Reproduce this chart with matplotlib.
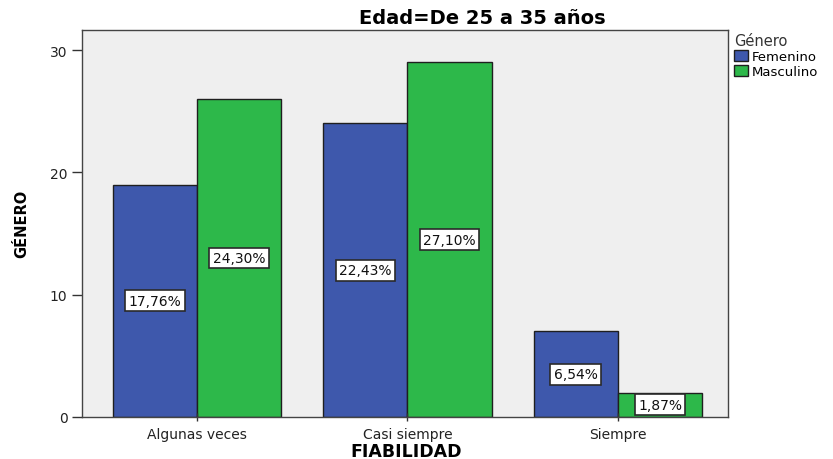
import matplotlib
matplotlib.use("Agg")
import matplotlib.pyplot as plt
import numpy as np
from matplotlib.patches import Patch

categories = ["Algunas veces", "Casi siempre", "Siempre"]
femenino = [19, 24, 7]
masculino = [26, 29, 2]
fem_pct = ["17,76%", "22,43%", "6,54%"]
masc_pct = ["24,30%", "27,10%", "1,87%"]

plt.rcParams['font.family'] = ['DejaVu Sans']

W, H = 833, 460
fig = plt.figure(figsize=(W/100, H/100), dpi=100)
ax = fig.add_axes([82/W, 1-418/H, (728-82)/W, (418-31)/H])
ax.set_facecolor("#EFEFEF")

x = np.arange(len(categories))
w = 0.4
blue = "#3E58AC"
green = "#2DB84A"
ax.bar(x - w/2, femenino, w, color=blue, edgecolor="#1f1f1f", linewidth=1)
ax.bar(x + w/2, masculino, w, color=green, edgecolor="#1f1f1f", linewidth=1)

for xs, vals, labels in ((x - w/2, femenino, fem_pct), (x + w/2, masculino, masc_pct)):
    for xi, v, t in zip(xs, vals, labels):
        ax.text(xi, v/2, t, ha="center", va="center", fontsize=10, color="#111111",
                bbox=dict(boxstyle="square,pad=0.25", fc="white", ec="#2a2a2a", lw=1.2))

ax.set_xlim(-0.546, 2.523)
ax.set_ylim(0, 31.64)
ax.set_yticks([0, 10, 20, 30])
ax.set_xticks(x)
ax.set_xticklabels(categories, fontsize=10, color="#222222")
ax.tick_params(axis="y", labelsize=10, labelcolor="#222222", length=7, width=1, color="#333333")
ax.tick_params(axis="x", length=6, width=1, color="#333333", direction="inout", pad=4)
for s in ax.spines.values():
    s.set_color("#444444")
    s.set_linewidth(1)

fig.text(482/W, 1-18/H, "Edad=De 25 a 35 años", ha="center", va="center",
         fontsize=14, fontweight="bold")
fig.text(406/W, 1-452/H, "FIABILIDAD", ha="center", va="center",
         fontsize=12.5, fontweight="bold")
fig.text(22/W, 1-224/H, "GÉNERO", ha="center", va="center", rotation=90,
         fontsize=10.5, fontweight="bold")

handles = [Patch(facecolor=blue, edgecolor="#1f1f1f"), Patch(facecolor=green, edgecolor="#1f1f1f")]
leg = fig.legend(handles, ["Femenino", "Masculino"], title="Género",
                 loc="upper left", bbox_to_anchor=(733/W, 1-33/H),
                 frameon=False, fontsize=9.5, title_fontsize=10.5,
                 handlelength=1.05, handleheight=0.95, handletextpad=0.25,
                 labelspacing=0.12, borderpad=0.1, borderaxespad=0)
leg._legend_box.align = "left"
leg.get_title().set_color("#333333")

fig.savefig("out.png", dpi=100)
